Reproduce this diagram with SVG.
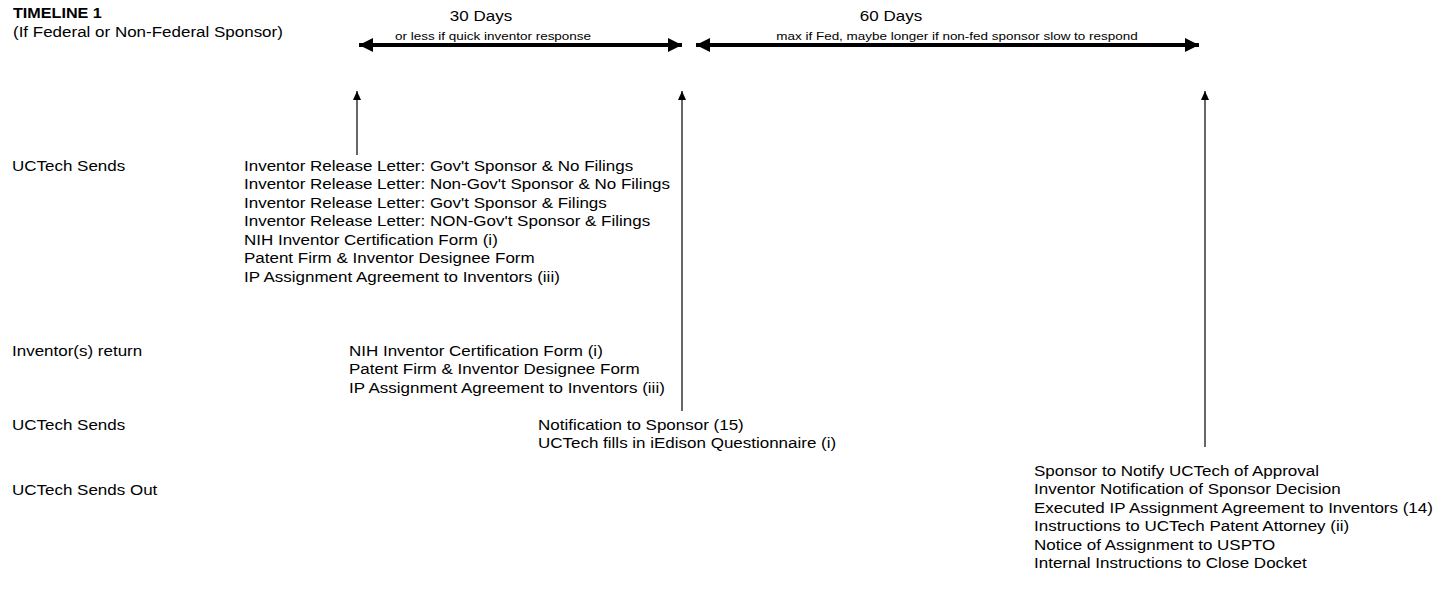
<svg xmlns="http://www.w3.org/2000/svg" width="1448" height="591" viewBox="0 0 1448 591">
<defs>
<style>
text{font-family:"Liberation Sans",Arial,sans-serif;font-size:14.5px;fill:#000}
.b{font-weight:bold;font-size:13.8px}
.sm{font-size:11.5px}
.mid{text-anchor:middle}
.thick{stroke:#000;stroke-width:4;fill:none}
.thin{stroke:#000;stroke-width:1.2;fill:none}
</style>
<marker id="big" viewBox="0 0 14 14" refX="14" refY="7" markerWidth="14" markerHeight="14" markerUnits="userSpaceOnUse" orient="auto-start-reverse">
<path d="M0,0 L14,7 L0,14 Z" fill="#000"/>
</marker>
<marker id="sm" viewBox="0 0 9 8" refX="9" refY="4" markerWidth="9" markerHeight="8" markerUnits="userSpaceOnUse" orient="auto">
<path d="M0,0 L9,4 L0,8 Z" fill="#000"/>
</marker>
</defs>
<rect width="1448" height="591" fill="#fff"/>
<g id="title" transform="translate(13,18) scale(1.172,1)">
<text x="0" y="0" class="b">TIMELINE 1</text>
<text x="0" y="19">(If Federal or Non-Federal Sponsor)</text>
</g>
<g id="span30">
<g transform="translate(481,21) scale(1.172,1)"><text class="mid">30 Days</text></g>
<g transform="translate(493,40) scale(1.172,1)"><text class="sm mid">or less if quick inventor response</text></g>
</g>
<g id="span60">
<g transform="translate(891,21) scale(1.172,1)"><text class="mid">60 Days</text></g>
<g transform="translate(957,40) scale(1.172,1)"><text class="sm mid">max if Fed, maybe longer if non-fed sponsor slow to respond</text></g>
</g>
<g id="connectors">
<line x1="359" y1="45" x2="682" y2="45" class="thick" marker-start="url(#big)" marker-end="url(#big)"/>
<line x1="696" y1="45" x2="1199" y2="45" class="thick" marker-start="url(#big)" marker-end="url(#big)"/>
<line x1="357" y1="155" x2="357" y2="91" class="thin" marker-end="url(#sm)"/>
<line x1="682" y1="411" x2="682" y2="91" class="thin" marker-end="url(#sm)"/>
<line x1="1205" y1="447" x2="1205" y2="91" class="thin" marker-end="url(#sm)"/>
</g>
<g id="labels">
<g transform="translate(12,171) scale(1.172,1)"><text>UCTech Sends</text></g>
<g transform="translate(12,356) scale(1.172,1)"><text>Inventor(s) return</text></g>
<g transform="translate(12,430) scale(1.172,1)"><text>UCTech Sends</text></g>
<g transform="translate(12,494.5) scale(1.172,1)"><text>UCTech Sends Out</text></g>
</g>
<g id="uctech-sends-1" transform="translate(244,171) scale(1.172,1)">
<text y="0">Inventor Release Letter: Gov't Sponsor &amp; No Filings</text>
<text y="18.5">Inventor Release Letter: Non-Gov't Sponsor &amp; No Filings</text>
<text y="37">Inventor Release Letter: Gov't Sponsor &amp; Filings</text>
<text y="55.5">Inventor Release Letter: NON-Gov't Sponsor &amp; Filings</text>
<text y="74">NIH Inventor Certification Form (i)</text>
<text y="92.5">Patent Firm &amp; Inventor Designee Form</text>
<text y="111">IP Assignment Agreement to Inventors (iii)</text>
</g>
<g id="inventors-return" transform="translate(349,356) scale(1.172,1)">
<text y="0">NIH Inventor Certification Form (i)</text>
<text y="18.5">Patent Firm &amp; Inventor Designee Form</text>
<text y="37">IP Assignment Agreement to Inventors (iii)</text>
</g>
<g id="uctech-sends-2" transform="translate(538,430) scale(1.172,1)">
<text y="0">Notification to Sponsor (15)</text>
<text y="18.5">UCTech fills in iEdison Questionnaire (i)</text>
</g>
<g id="uctech-sends-out" transform="translate(1034,476) scale(1.172,1)">
<text y="0">Sponsor to Notify UCTech of Approval</text>
<text y="18.5">Inventor Notification of Sponsor Decision</text>
<text y="37">Executed IP Assignment Agreement to Inventors (14)</text>
<text y="55.5">Instructions to UCTech Patent Attorney (ii)</text>
<text y="74">Notice of Assignment to USPTO</text>
<text y="92.5">Internal Instructions to Close Docket</text>
</g>
</svg>
